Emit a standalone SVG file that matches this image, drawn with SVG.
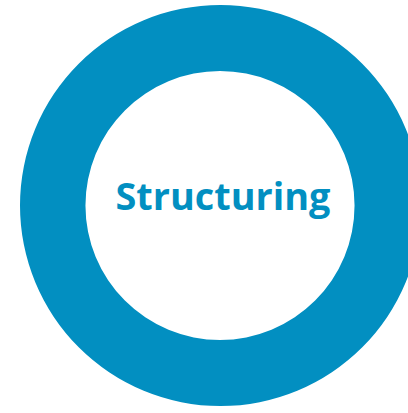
<svg xmlns="http://www.w3.org/2000/svg" width="408" height="413" viewBox="0 0 408 413">
<style>
.ring{fill:#028FC1;fill-rule:evenodd}
.label{font-family:"Open Sans","Liberation Sans",sans-serif;font-weight:bold;font-size:38px;fill:#028FC1}
</style>
<rect width="408" height="413" fill="#ffffff"/>
<g id="ring-node">
<path class="ring" d="M220.5,5 A200.5,200.5 0 1 1 220.5,406 A200.5,200.5 0 1 1 220.5,5 Z M220,71 A134.5,134.5 0 1 0 220,340 A134.5,134.5 0 1 0 220,71 Z"/>
<text class="label" x="223" y="210" text-anchor="middle" textLength="215" lengthAdjust="spacingAndGlyphs">Structuring</text>
</g>
<g id="connectors"></g>
</svg>
